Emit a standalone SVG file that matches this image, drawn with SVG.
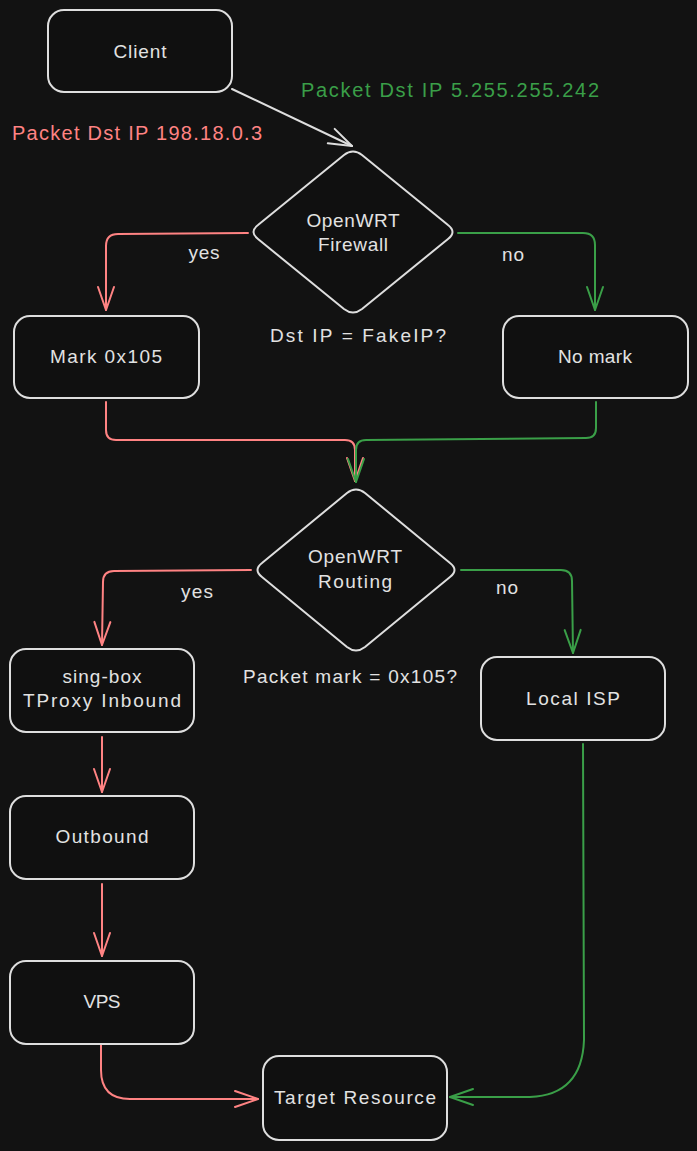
<svg xmlns="http://www.w3.org/2000/svg" width="697" height="1151" viewBox="0 0 697 1151">
<style>
.bg{fill:#121212}
.node{fill:#101010;stroke:#dedede;stroke-width:2}
.t{font-family:"Liberation Sans",Arial,sans-serif;font-size:19px;fill:#e2e2e2;text-anchor:middle}
.lbl{font-family:"Liberation Sans",Arial,sans-serif;font-size:19px;fill:#e2e2e2;text-anchor:middle}
.cl{font-family:"Liberation Sans",Arial,sans-serif;font-size:20px;text-anchor:middle}
.red{stroke:#ff8383;fill:none;stroke-width:2;stroke-linecap:round;stroke-linejoin:round}
.green{stroke:#3a9f48;fill:none;stroke-width:2;stroke-linecap:round;stroke-linejoin:round}
.white{stroke:#dedede;fill:none;stroke-width:2;stroke-linecap:round;stroke-linejoin:round}
</style>
<defs>
<marker id="ar" markerUnits="userSpaceOnUse" markerWidth="30" markerHeight="30" viewBox="-26 -12 30 24" refX="0" refY="0" orient="auto"><path d="M-23,-8 L0,0 L-23,8" fill="none" stroke="#ff8383" stroke-width="2" stroke-linecap="round" stroke-linejoin="round"/></marker>
<marker id="ag" markerUnits="userSpaceOnUse" markerWidth="30" markerHeight="30" viewBox="-26 -12 30 24" refX="0" refY="0" orient="auto"><path d="M-23,-8 L0,0 L-23,8" fill="none" stroke="#3a9f48" stroke-width="2" stroke-linecap="round" stroke-linejoin="round"/></marker>
<marker id="aw" markerUnits="userSpaceOnUse" markerWidth="30" markerHeight="30" viewBox="-26 -12 30 24" refX="0" refY="0" orient="auto"><path d="M-23,-8 L0,0 L-23,8" fill="none" stroke="#dedede" stroke-width="2" stroke-linecap="round" stroke-linejoin="round"/></marker>
</defs>
<rect class="bg" x="0" y="0" width="697" height="1151"/>

<g id="connectors">
<path class="white" d="M232,89 L352,146" marker-end="url(#aw)"/>
<path class="red" d="M248,233 L118,234 Q106,234 106,246 L106,310" marker-end="url(#ar)"/>
<path class="green" d="M458,233 L583,233 Q595,233 595,245 L595,310" marker-end="url(#ag)"/>
<path class="red" d="M106,402 L106,430 Q106,440 116,440 L345,440 Q355,440 355,450 L355,481" marker-end="url(#ar)"/>
<path class="green" d="M596,402 L596,428 Q596,438 586,438 L366,440 Q356,440 356,450 L356,482" marker-end="url(#ag)"/>
<path class="red" d="M251,570 L114,571 Q103,571 103,582 L102,645" marker-end="url(#ar)"/>
<path class="green" d="M461,570 L561,570 Q572,570 572,581 L573,653" marker-end="url(#ag)"/>
<path class="red" d="M102,737 L102,792" marker-end="url(#ar)"/>
<path class="red" d="M102,884 L102,956" marker-end="url(#ar)"/>
<path class="red" d="M101,1044 L101,1070 Q101,1099 130,1099 L258,1099" marker-end="url(#ar)"/>
<path class="green" d="M583,744 L584,1040 Q582,1095 530,1097 L450,1097" marker-end="url(#ag)"/>
</g>

<g id="labels">
<text class="cl" x="450" y="97" fill="#3a9f48" textLength="298">Packet Dst IP 5.255.255.242</text>
<text class="cl" x="137" y="140" fill="#ff8383" textLength="250">Packet Dst IP 198.18.0.3</text>
<text class="lbl" x="204" y="259" textLength="31">yes</text>
<text class="lbl" x="513" y="261" textLength="22">no</text>
<text class="lbl" x="358" y="342" textLength="176">Dst IP = FakeIP?</text>
<text class="lbl" x="197" y="598" textLength="32">yes</text>
<text class="lbl" x="507" y="594" textLength="22">no</text>
<text class="lbl" x="350" y="683" textLength="214">Packet mark = 0x105?</text>
</g>

<g id="client"><rect class="node" x="48" y="10" width="184" height="82" rx="16"/><text class="t" x="140" y="58" textLength="53">Client</text></g>
<g id="firewall"><path class="node" d="M362,155 L448,225 Q457,232 448,239 L362,309 Q353,316 344,309 L258,239 Q249,232 258,225 L344,155 Q353,148 362,155 Z"/><text class="t" x="353" y="227" textLength="93">OpenWRT</text><text class="t" x="353" y="251" textLength="70">Firewall</text></g>
<g id="mark"><rect class="node" x="14" y="316" width="185" height="82" rx="16"/><text class="t" x="106" y="363" textLength="112">Mark 0x105</text></g>
<g id="nomark"><rect class="node" x="503" y="316" width="185" height="82" rx="16"/><text class="t" x="595" y="363" textLength="74">No mark</text></g>
<g id="routing"><path class="node" d="M365,493 L450,563 Q459,570 450,577 L365,647 Q356,654 347,647 L262,577 Q253,570 262,563 L347,493 Q356,486 365,493 Z"/><text class="t" x="355" y="563" textLength="94">OpenWRT</text><text class="t" x="355" y="588" textLength="74">Routing</text></g>
<g id="singbox"><rect class="node" x="10" y="649" width="184" height="83" rx="16"/><text class="t" x="102" y="683" textLength="79">sing-box</text><text class="t" x="102" y="707" textLength="158">TProxy Inbound</text></g>
<g id="localisp"><rect class="node" x="481" y="657" width="184" height="83" rx="16"/><text class="t" x="573" y="705" textLength="94">Local ISP</text></g>
<g id="outbound"><rect class="node" x="10" y="796" width="184" height="83" rx="16"/><text class="t" x="102" y="843" textLength="93">Outbound</text></g>
<g id="vps"><rect class="node" x="10" y="961" width="184" height="83" rx="16"/><text class="t" x="102" y="1008" textLength="37">VPS</text></g>
<g id="target"><rect class="node" x="263" y="1056" width="184" height="84" rx="16"/><text class="t" x="355" y="1104" textLength="162">Target Resource</text></g>
</svg>
